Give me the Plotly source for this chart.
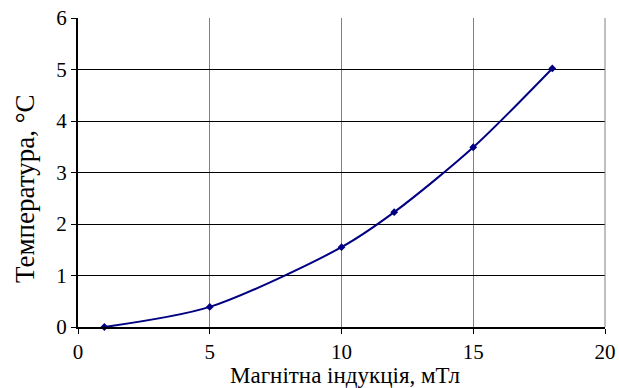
import plotly.graph_objects as go

# Magnetic induction (mT) vs. temperature rise (°C)
induction_mT = [1, 5, 10, 12, 15, 18]
temperature_C = [0.0, 0.39, 1.55, 2.23, 3.49, 5.02]

x_ticks = [0, 5, 10, 15, 20]
y_ticks = [0, 1, 2, 3, 4, 5, 6]

x_title = "Магнітна індукція, мТл"
y_title = "Температура, °C"

font_family = "Liberation Serif"

W, H = 619, 388
L, R, T, B = 78, 14, 18, 61

fig = go.Figure()
fig.add_trace(go.Scatter(
    x=induction_mT,
    y=temperature_C,
    mode="lines+markers",
    line=dict(color="#000080", width=2, shape="spline", smoothing=0.8),
    marker=dict(symbol="diamond", size=6, color="#000080"),
    showlegend=False,
    cliponaxis=False,
))

axis_common = dict(
    showgrid=True,
    gridwidth=1,
    showline=True,
    linecolor="black",
    linewidth=2,
    ticks="outside",
    ticklen=5,
    tickcolor="black",
    zeroline=False,
    automargin=False,
    tickfont=dict(family=font_family, size=21),
)

fig.update_layout(
    template="none",
    width=W,
    height=H,
    margin=dict(l=L, r=R, t=T, b=B),
    paper_bgcolor="white",
    plot_bgcolor="white",
    font=dict(family=font_family, size=21, color="black"),
    xaxis=dict(range=[0, 20], tickvals=x_ticks, gridcolor="#808080",
               **axis_common),
    yaxis=dict(range=[0, 6], tickvals=y_ticks, gridcolor="black",
               **axis_common),
)

# Axis titles placed in pixel offsets from the plotting area
plot_w = W - L - R
plot_h = H - T - B
fig.add_annotation(
    text=x_title, xref="paper", yref="paper",
    x=(345 - L) / plot_w, y=-(375 - (H - B)) / plot_h,
    xanchor="center", yanchor="middle", showarrow=False,
    font=dict(family=font_family, size=23),
)
fig.add_annotation(
    text=y_title, xref="paper", yref="paper",
    x=-(L - 25) / plot_w, y=((H - B) - 189) / plot_h,
    xanchor="center", yanchor="middle", showarrow=False,
    textangle=-90, font=dict(family=font_family, size=27),
)

# Thin grey frame on the right side of the plotting area
fig.add_shape(type="line", xref="paper", yref="paper",
              x0=1, x1=1, y0=0, y1=1,
              line=dict(color="#808080", width=1))

fig.write_html("out.html")
